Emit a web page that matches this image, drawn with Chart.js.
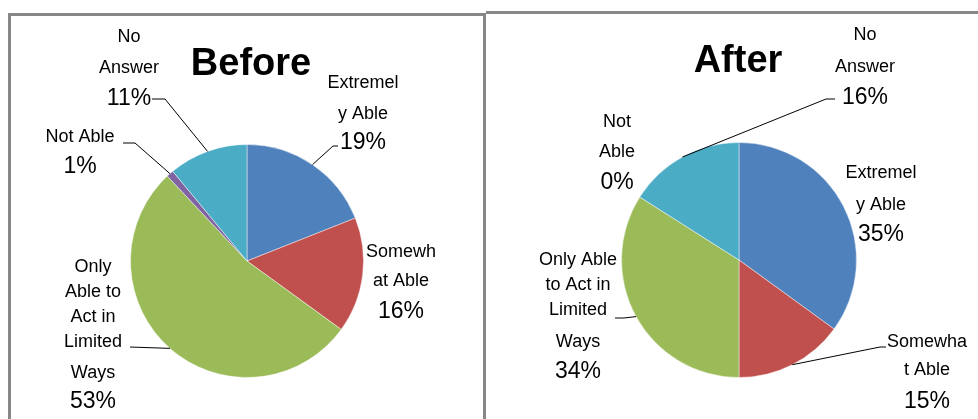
<!DOCTYPE html>
<html>
<head>
<meta charset="utf-8">
<title>Before / After</title>
<script src="https://cdn.jsdelivr.net/npm/chart.js@4.4.1/dist/chart.umd.min.js"></script>
<style>
    html, body { margin: 0; padding: 0; background: #fff; }
    body { width: 978px; height: 419px; position: relative; overflow: hidden; }
    .frame { position: absolute; box-sizing: border-box; border: 3px solid #878787; }
    #frameBefore { left: 8px; top: 13px; width: 478px; height: 500px; border-bottom: 0; }
    #frameAfter { left: 486px; top: 11px; width: 600px; height: 500px; border-left: 0; border-right: 0; border-bottom: 0; }
    canvas { position: absolute; top: 0; }
    #beforeChart { left: 0; }
    #afterChart { left: 489px; }
</style>
</head>
<body>
<div class="frame" id="frameBefore"></div>
<div class="frame" id="frameAfter"></div>
<canvas id="beforeChart" width="489" height="419"></canvas>
<canvas id="afterChart" width="489" height="419"></canvas>

<script>
// Survey answers, same category order for both pies (clockwise from 12 o'clock)
const categories = ['Extremely Able', 'Somewhat Able', 'Only Able to Act in Limited Ways', 'Not Able', 'No Answer'];
const beforeValues = [19, 16, 53, 1, 11];
const afterValues = [35, 15, 34, 0, 16];
const sliceColors = ['#4F81BD', '#C0504D', '#9BBB59', '#8064A2', '#4BACC6'];

const NAME_FONT = '18px "Liberation Sans", Arial, sans-serif';
const PCT_FONT = '23px "Liberation Sans", Arial, sans-serif';
const TITLE_FONT = 'bold 38px "Liberation Sans", Arial, sans-serif';

// Label placement for each slice (page pixels): text centre x, line baselines,
// where the category name wraps (character offsets), and leader line bends.
const beforeLayout = {
    title: { text: 'Before', x: 251, y: 65 },
    offsetX: 0,
    padding: { left: 130, right: 125, top: 144, bottom: 41 },
    labels: [
        { x: 363, nameY: [83, 114], pctY: 143, breaks: [8], leader: [[333, 146], [338, 146]] },
        { x: 401, nameY: [252, 281], pctY: 312, breaks: [6], leader: null },
        { x: 93, nameY: [267, 292, 317, 342, 373], pctY: 402, breaks: [4, 12, 19, 27], leader: [[130, 347]] },
        { x: 80, nameY: [137], pctY: 167, breaks: [], leader: [[135, 143], [123, 143]] },
        { x: 129, nameY: [37, 68], pctY: 99, breaks: [2], leader: [[165, 99], [152, 99]] }
    ]
};

const afterLayout = {
    title: { text: 'After', x: 738, y: 62 },
    offsetX: 489,
    padding: { left: 132, right: 121, top: 142, bottom: 41 },
    labels: [
        { x: 881, nameY: [173, 205], pctY: 235, breaks: [8], leader: null },
        { x: 927, nameY: [342, 370], pctY: 402, breaks: [7], leader: [[880, 347], [886, 347]] },
        { x: 578, nameY: [260, 285, 310, 342], pctY: 372, breaks: [9, 19, 27], leader: [[624, 318], [615, 318]] },
        { x: 617, nameY: [122, 152], pctY: 183, breaks: [3], leader: null },
        { x: 865, nameY: [35, 67], pctY: 98, breaks: [2], leader: [[826, 99], [835, 99]] }
    ]
};

function wrapName(name, breaks) {
    const parts = [];
    let start = 0;
    breaks.forEach(b => { parts.push(name.slice(start, b).trim()); start = b; });
    parts.push(name.slice(start).trim());
    return parts;
}

// Draws the title, the outside labels and their leader lines
const outsideLabels = {
    id: 'outsideLabels',
    afterDatasetsDraw(chart, args, opts) {
        const layout = opts.layout;
        const ctx = chart.ctx;
        const meta = chart.getDatasetMeta(0);
        const values = chart.data.datasets[0].data;
        const ox = layout.offsetX;

        ctx.save();
        ctx.fillStyle = '#000';
        ctx.strokeStyle = '#000';
        ctx.lineWidth = 1;
        ctx.textAlign = 'center';
        ctx.textBaseline = 'middle';

        ctx.font = TITLE_FONT;
        ctx.fillText(layout.title.text, layout.title.x - ox, layout.title.y);

        meta.data.forEach((arc, i) => {
            const lab = layout.labels[i];
            if (lab.leader) {
                const mid = (arc.startAngle + arc.endAngle) / 2;
                ctx.beginPath();
                ctx.moveTo(arc.x + Math.cos(mid) * arc.outerRadius, arc.y + Math.sin(mid) * arc.outerRadius);
                lab.leader.forEach(p => ctx.lineTo(p[0] - ox, p[1]));
                ctx.stroke();
            }
            ctx.font = NAME_FONT;
            wrapName(chart.data.labels[i], lab.breaks).forEach((line, k) => {
                ctx.fillText(line, lab.x - ox, lab.nameY[k]);
            });
            ctx.font = PCT_FONT;
            ctx.fillText(values[i] + '%', lab.x - ox, lab.pctY);
        });
        ctx.restore();
    }
};

function makePie(canvasId, values, layout) {
    return new Chart(document.getElementById(canvasId), {
        type: 'pie',
        data: {
            labels: categories,
            datasets: [{
                data: values,
                backgroundColor: sliceColors,
                borderColor: 'rgba(255, 255, 255, 0.45)',
                borderWidth: 1
            }]
        },
        options: {
            responsive: false,
            animation: false,
            layout: { padding: layout.padding },
            plugins: {
                legend: { display: false },
                tooltip: { enabled: false },
                outsideLabels: { layout: layout }
            }
        },
        plugins: [outsideLabels]
    });
}

let beforeChart = makePie('beforeChart', beforeValues, beforeLayout);
let afterChart = makePie('afterChart', afterValues, afterLayout);
</script>
</body>
</html>
